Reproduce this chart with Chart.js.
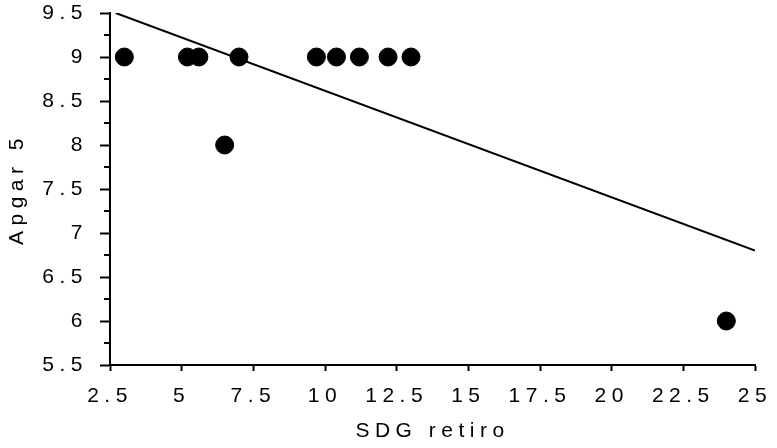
<!DOCTYPE html>
<html>
<head>
<meta charset="utf-8">
<script src="https://cdn.jsdelivr.net/npm/chart.js@4"></script>
<style>
  body { margin: 0; background: #fff; }
  canvas { display: block; }
</style>
</head>
<body>
<canvas id="grafico" width="777" height="448"></canvas>
<script>
// SDG retiro vs Apgar 5
const sdgRetiro = [3, 5.2, 5.6, 6.5, 7, 9.7, 10.4, 11.2, 12.2, 13, 24];
const apgar5 = [9, 9, 9, 8, 9, 9, 9, 9, 9, 9, 6];

// fitted line, ends
const lineaX = [2.7, 25];
const lineaY = [9.5, 6.8];

const xMin = 2.5, xMax = 25, xStep = 2.5;
const yMin = 5.5, yMax = 9.5, yStep = 0.25;

const spacing = '5.5px';
const letras = {
    id: 'letras',
    beforeUpdate(c) { c.ctx.letterSpacing = spacing; },
    beforeLayout(c) { c.ctx.letterSpacing = spacing; },
    beforeDraw(c) { c.ctx.letterSpacing = spacing; }
};

const esMayor = v => Math.abs(v * 2 - Math.round(v * 2)) < 1e-6;

// short ticks between the labelled ones on the y axis
const menores = {
    id: 'menores',
    afterDraw(c) {
        const y = c.scales.y;
        const ctx = c.ctx;
        ctx.save();
        ctx.strokeStyle = '#000';
        ctx.lineWidth = 2;
        y.ticks.forEach(t => {
            if (esMayor(t.value)) return;
            const py = Math.round(y.getPixelForValue(t.value));
            ctx.beginPath();
            ctx.moveTo(y.right - 6, py);
            ctx.lineTo(y.right, py);
            ctx.stroke();
        });
        ctx.restore();
    }
};

const fonte = { family: 'Liberation Sans', size: 21 };

new Chart(document.getElementById('grafico'), {
    type: 'scatter',
    data: {
        datasets: [
            {
                label: 'Apgar 5',
                data: sdgRetiro.map((x, i) => ({ x: x, y: apgar5[i] })),
                backgroundColor: '#000',
                borderColor: '#000',
                pointRadius: 9,
                pointHoverRadius: 9
            },
            {
                label: 'ajuste',
                type: 'line',
                data: lineaX.map((x, i) => ({ x: x, y: lineaY[i] })),
                borderColor: '#000',
                borderWidth: 2,
                pointRadius: 0,
                fill: false
            }
        ]
    },
    options: {
        responsive: false,
        animation: false,
        layout: { padding: { left: 0, top: 13, right: 22, bottom: 0 } },
        plugins: { legend: { display: false }, tooltip: { enabled: false } },
        scales: {
            x: {
                type: 'linear',
                min: xMin,
                max: xMax,
                afterFit(s) { s.height = 83; s.paddingLeft = 0; s.paddingRight = 0; },
                border: { color: '#000', width: 2 },
                grid: { drawOnChartArea: false, tickLength: 6, tickColor: '#000', tickWidth: 2 },
                ticks: { stepSize: xStep, color: '#000', font: fonte, padding: 13, maxRotation: 0, autoSkip: false },
                title: { display: true, text: 'SDG retiro', color: '#000', font: fonte, padding: { top: 4, bottom: 4 } }
            },
            y: {
                min: yMin,
                max: yMax,
                afterFit(s) { s.width = 110; s.paddingTop = 0; s.paddingBottom = 0; },
                border: { color: '#000', width: 2 },
                grid: {
                    drawOnChartArea: false,
                    tickLength: 10,
                    tickWidth: 2,
                    tickColor: ctx => (ctx.tick && esMayor(ctx.tick.value)) ? '#000' : 'rgba(0,0,0,0)'
                },
                ticks: {
                    stepSize: yStep,
                    color: '#000',
                    font: fonte,
                    padding: 12,
                    autoSkip: false,
                    callback: v => esMayor(v) ? String(v) : ''
                },
                title: { display: true, text: 'Apgar 5', color: '#000', font: fonte, padding: { top: 5, bottom: 4 } }
            }
        }
    },
    plugins: [letras, menores]
});
</script>
</body>
</html>
